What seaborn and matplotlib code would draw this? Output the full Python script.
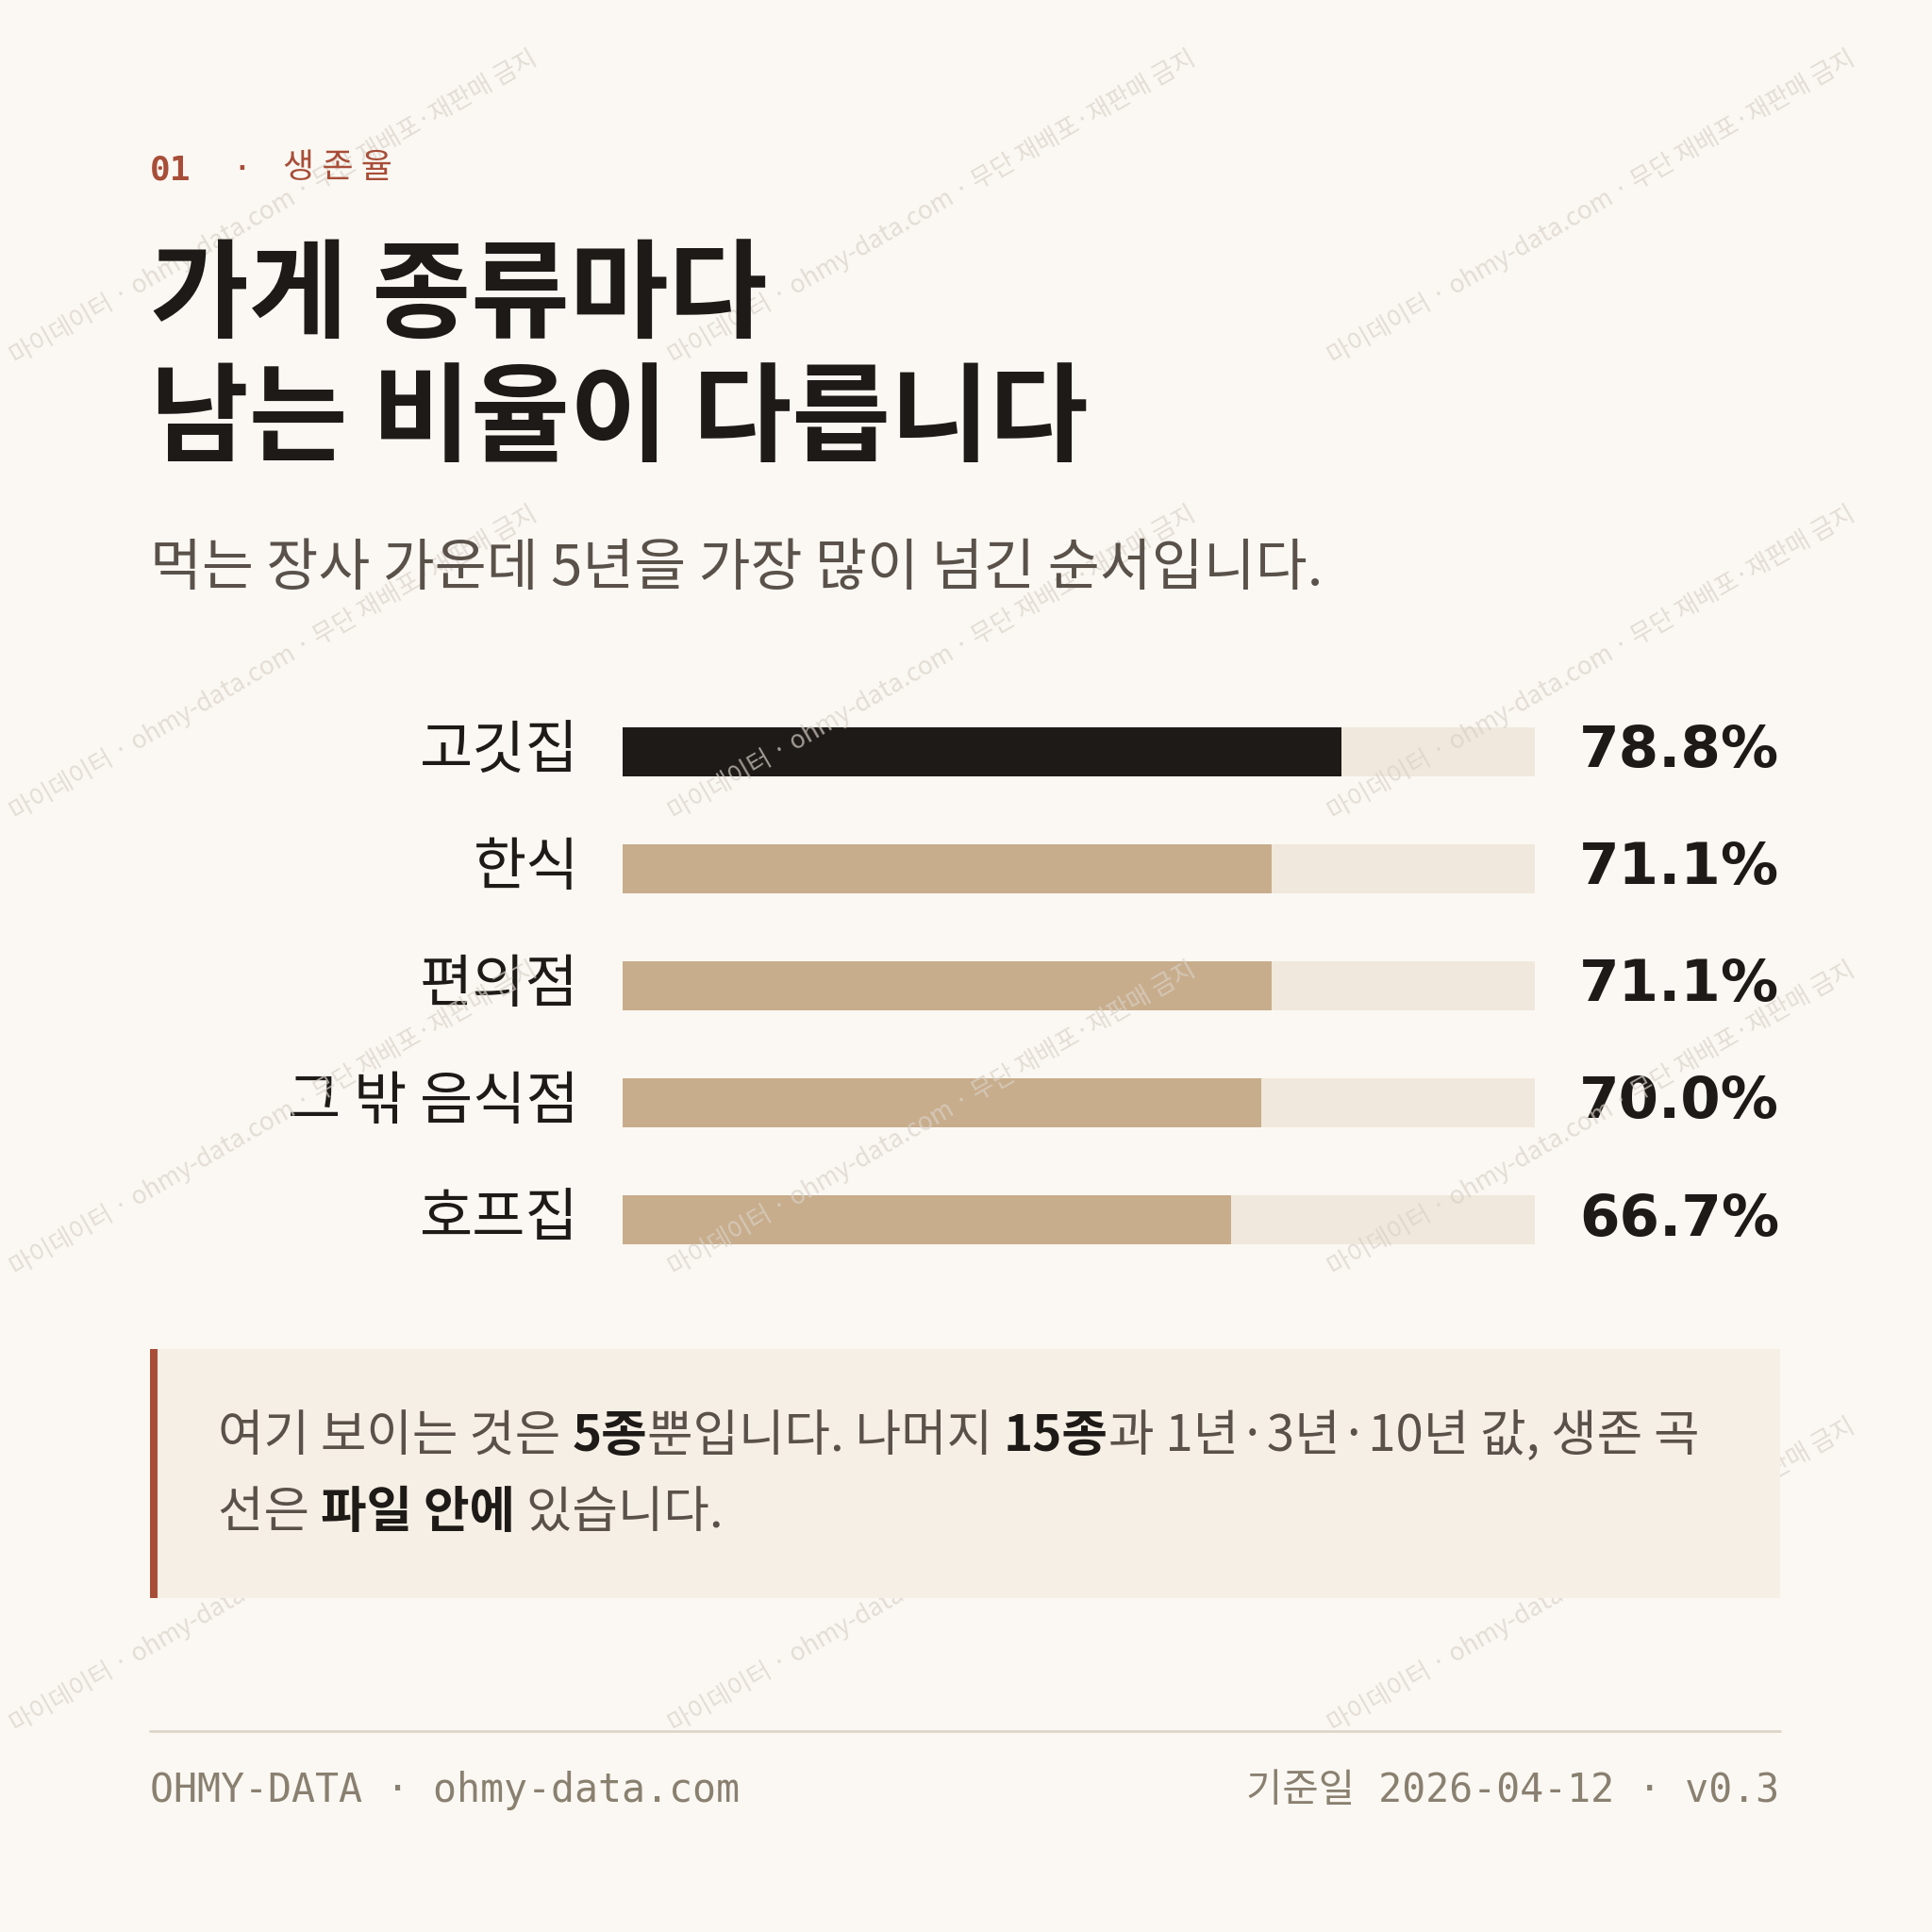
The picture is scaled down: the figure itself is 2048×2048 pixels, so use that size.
import matplotlib
matplotlib.use("Agg")
import matplotlib.pyplot as plt
import matplotlib.transforms as mtrans
from matplotlib.patches import Rectangle
import pandas as pd
import seaborn as sns

categories = ["고깃집", "한식", "편의점", "그 밖 음식점", "호프집"]
survival = [78.8, 71.1, 71.1, 70.0, 66.7]
value_labels = ["78.8%", "71.1%", "71.1%", "70.0%", "66.7%"]

BG = "#FBF8F3"
TRACK = "#F0E8DC"
DARK = "#1E1A17"
TAN = "#C8AD8C"
RUST = "#A84E38"
GREY = "#8A8070"
KR = ["Noto Sans CJK KR", "DejaVu Sans"]
MONO = ["DejaVu Sans Mono", "Noto Sans CJK KR"]

sns.set_theme(style="white")
plt.rcParams["font.family"] = KR

S = 1568.0
def fx(x): return x / S
def fy(y): return 1 - y / S

fig = plt.figure(figsize=(10.24, 10.24), dpi=200, facecolor=BG)

# watermark, kept inside the canvas
wm = "마이데이터 · ohmy-data.com · 무단 재배포·재판매 금지"
for cx in [15, 550, 1085]:
    for cy in [300, 670, 1040, 1410]:
        fig.text(fx(cx), fy(cy), wm, rotation=30, rotation_mode="anchor", fontsize=9.5,
                 color="#D9D2C8", alpha=0.7, ha="left", va="bottom", zorder=0)

# header
fig.text(fx(122), fy(138), "01", family=MONO, weight="bold", fontsize=13, color=RUST, va="center")
fig.text(fx(188), fy(138), "·", family=MONO, fontsize=13, color=RUST, va="center")
fig.text(fx(230), fy(136), "생 존 율", fontsize=13, color=RUST, va="center")
fig.text(fx(122), fy(242), "가게 종류마다", fontsize=41, weight="bold", color=DARK, va="center")
fig.text(fx(122), fy(342), "남는 비율이 다릅니다", fontsize=41, weight="bold", color=DARK, va="center")
fig.text(fx(122), fy(462), "먹는 장사 가운데 5년을 가장 많이 넘긴 순서입니다.", fontsize=21.5,
         weight="light", color="#5A524A", va="center")

# bars
df = pd.DataFrame({"cat": categories, "val": survival, "full": [100] * len(categories)})
ax = fig.add_axes([fx(505), fy(1037.5), fx(1246) - fx(505), (1037.5 - 562.5) / S])
ax.set_facecolor("none")
sns.barplot(data=df, x="full", y="cat", orient="h", color=TRACK, width=0.42, ax=ax,
            saturation=1, linewidth=0)
sns.barplot(data=df, x="val", y="cat", orient="h", hue="cat", legend=False,
            palette=[DARK] + [TAN] * 4, width=0.42, ax=ax, saturation=1, linewidth=0)
ax.set_xlim(0, 100)
ax.set_ylim(4.5, -0.5)
ax.axis("off")

tr = mtrans.blended_transform_factory(fig.transFigure, ax.transData)
for i, (c, v) in enumerate(zip(categories, value_labels)):
    ax.text(fx(470), i, c, transform=tr, ha="right", va="center", fontsize=22, color=DARK)
    ax.text(fx(1444), i, v, transform=tr, ha="right", va="center", fontsize=22,
            weight="bold", color=DARK, family=["DejaVu Sans"])

# callout
fig.patches.append(Rectangle((fx(122), fy(1297)), fx(1445) - fx(122), (1297 - 1095) / S,
                             transform=fig.transFigure, facecolor="#F6EFE5", edgecolor="none", zorder=1))
fig.patches.append(Rectangle((fx(122), fy(1297)), fx(6), (1297 - 1095) / S,
                             transform=fig.transFigure, facecolor=RUST, edgecolor="none", zorder=2))

renderer = fig.canvas.get_renderer()
def runs(x, y, parts):
    for txt, bold in parts:
        t = fig.text(x, y, txt, fontsize=19, color=DARK if bold else "#5A524A",
                     weight="bold" if bold else "light", va="center", zorder=3)
        bb = t.get_window_extent(renderer)
        x += bb.width / fig.bbox.width

runs(fx(177), fy(1166), [("여기 보이는 것은 ", False), ("5종", True), ("뿐입니다. 나머지 ", False),
                         ("15종", True), ("과 1년·3년·10년 값, 생존 곡", False)])
runs(fx(177), fy(1228), [("선은 ", False), ("파일 안에", True), (" 있습니다.", False)])

# footer
fig.add_artist(plt.Line2D([fx(122), fx(1445)], [fy(1405), fy(1405)], color="#DDD5C8", lw=1))
fig.text(fx(122), fy(1453), "OHMY-DATA · ohmy-data.com", family=MONO, fontsize=15, color=GREY, va="center")
fig.text(fx(1444), fy(1453), "기준일 2026-04-12 · v0.3", family=MONO, fontsize=15, color=GREY,
         va="center", ha="right")

fig.savefig("out.png", dpi=200, facecolor=BG)
